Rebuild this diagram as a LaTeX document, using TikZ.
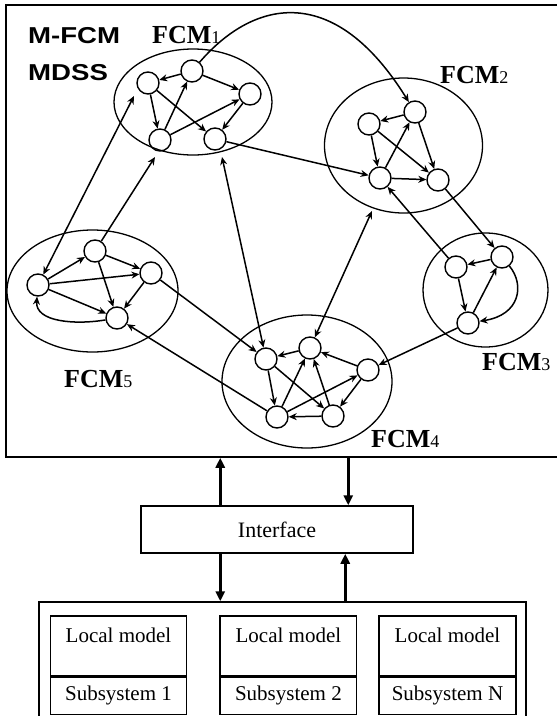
\documentclass[tikz,border=0pt]{standalone}
\usepackage{graphicx}
\usepackage{fontspec}
\setmainfont{Liberation Serif}
\newfontfamily\headsans{Liberation Sans}
\usetikzlibrary{shapes.geometric,arrows.meta}
\begin{document}
\begin{tikzpicture}[x=1pt,y=-1pt,
  fcm/.style={circle, draw, line width=1.4pt, minimum size=22pt, inner sep=0pt},
  cluster/.style={ellipse, draw, line width=1.3pt, inner sep=0pt},
  arc/.style={line width=1.5pt, -{Stealth[length=8pt,width=7pt]}},
  biarc/.style={line width=1.5pt, {Stealth[length=8pt,width=7pt]}-{Stealth[length=8pt,width=7pt]}},
  io/.style={line width=2.8pt, -{Triangle[length=10pt,width=9pt]}},
  frame/.style={draw, line width=1.5pt, inner sep=0pt},
  fcmlabel/.style={anchor=base west, inner sep=0pt, font=\fontsize{26}{26}\selectfont\bfseries},
  headlabel/.style={anchor=base west, inner sep=0pt},
  boxtext/.style={font=\fontsize{21}{21}\selectfont}]
\useasboundingbox (0,0) rectangle (557,716);

% outer frame of the decision support system
\node[frame, minimum width=560pt, minimum height=452pt] (mdss) at (286,231) {};
\node[headlabel] (t1) at (28,43) {\scalebox{1.2}[1]{\headsans\bfseries\fontsize{23}{23}\selectfont M-FCM}};
\node[headlabel] (t2) at (28,80) {\scalebox{1.2}[1]{\headsans\bfseries\fontsize{23}{23}\selectfont MDSS}};

% clusters
\node[cluster, minimum width=158pt, minimum height=106pt] (E1) at (193,102) {};
\node[cluster, minimum width=158pt, minimum height=135pt] (E2) at (403.5,145.5) {};
\node[cluster, minimum width=125pt, minimum height=114pt] (E3) at (485.5,290) {};
\node[cluster, minimum width=170pt, minimum height=133pt] (E4) at (307,381.5) {};
\node[cluster, minimum width=171pt, minimum height=122pt] (E5) at (92.5,291) {};

% cluster labels
\node[fcmlabel] (L1) at (152,43) {FCM{\mdseries\fontsize{18}{18}\selectfont 1}};
\node[fcmlabel] (L2) at (440,83) {FCM{\mdseries\fontsize{18}{18}\selectfont 2}};
\node[fcmlabel] (L3) at (482,370) {FCM{\mdseries\fontsize{18}{18}\selectfont 3}};
\node[fcmlabel] (L4) at (371,447) {FCM{\mdseries\fontsize{18}{18}\selectfont 4}};
\node[fcmlabel] (L5) at (64,387) {FCM{\mdseries\fontsize{18}{18}\selectfont 5}};

% concept nodes
\node[fcm] (n11) at (148,83) {};
\node[fcm] (n12) at (192,71) {};
\node[fcm] (n13) at (250,94) {};
\node[fcm] (n14) at (160,140) {};
\node[fcm] (n15) at (215,139) {};

\node[fcm] (n21) at (415,112) {};
\node[fcm] (n22) at (369,124) {};
\node[fcm] (n23) at (380,178) {};
\node[fcm] (n24) at (438,180) {};

\node[fcm] (n31) at (456,267) {};
\node[fcm] (n32) at (502,257) {};
\node[fcm] (n33) at (468,323) {};

\node[fcm] (n41) at (266,359) {};
\node[fcm] (n42) at (310,348) {};
\node[fcm] (n43) at (368,370) {};
\node[fcm] (n44) at (277,417) {};
\node[fcm] (n45) at (333,416) {};

\node[fcm] (n51) at (38,285) {};
\node[fcm] (n52) at (95,251) {};
\node[fcm] (n53) at (151,273) {};
\node[fcm] (n54) at (117,318) {};

% points on cluster borders
\coordinate (c1l) at (134,96);
\coordinate (c1a) at (155,157);
\coordinate (c1b) at (222,157);
\coordinate (c2b) at (372,211);

% links inside FCM1
\draw[arc] (n12) -- (n11);
\draw[arc] (n11) -- (n14);
\draw[arc] (n14) -- (n12);
\draw[arc] (n11) -- (n15);
\draw[arc] (n12) -- (n13);
\draw[arc] (n14) -- (n13);
\draw[arc] (n13) -- (n15);

% links inside FCM2
\draw[arc] (n21) -- (n22);
\draw[arc] (n22) -- (n23);
\draw[arc] (n23) -- (n21);
\draw[arc] (n22) -- (n24);
\draw[arc] (n21) -- (n24);
\draw[arc] (n23) -- (n24);

% links inside FCM3
\draw[arc] (n32) -- (n31);
\draw[arc] (n31) -- (n33);
\draw[arc] (n33) -- (n32);
\draw[arc] (n32) .. controls (525,285) and (520,315) .. (n33);

% links inside FCM4
\draw[arc] (n42) -- (n41);
\draw[arc] (n41) -- (n44);
\draw[arc] (n44) -- (n42);
\draw[arc] (n41) -- (n45);
\draw[arc] (n45) -- (n42);
\draw[arc] (n43) -- (n42);
\draw[arc] (n44) -- (n43);
\draw[arc] (n45) -- (n44);
\draw[arc] (n43) -- (n45);

% links inside FCM5
\draw[arc] (n51) -- (n52);
\draw[arc] (n52) -- (n53);
\draw[arc] (n51) -- (n53);
\draw[arc] (n52) -- (n54);
\draw[arc] (n51) -- (n54);
\draw[arc] (n53) -- (n54);
\draw[arc] (n54) .. controls (75,325) and (35,322) .. (n51);

% links between maps
\draw[arc] (n12) .. controls (255,-2) and (335,-17) .. (n21);
\draw[arc] (n15) -- (n23);
\draw[arc] (n31) -- (n23);
\draw[arc] (n24) -- (n32);
\draw[arc] (n33) -- (n43);
\draw[arc] (n53) -- (n41);
\draw[arc] (n44) -- (n54);
\draw[biarc] (n41) -- (c1b);
\draw[biarc] (n42) -- (c2b);
\draw[arc] (n52) -- (c1a);
\draw[biarc] (n51) -- (c1l);

% interface layer
\node[frame, minimum width=272pt, minimum height=47pt, font=\fontsize{22}{22}\selectfont] (iface) at (277,529.5) {Interface};
\coordinate (upA) at ([xshift=80pt]iface.north west);
\coordinate (dnA) at ([xshift=208pt]iface.north west);
\coordinate (dnB) at ([xshift=80pt]iface.south west);
\coordinate (upB) at ([xshift=205pt]iface.south west);
\draw[io] (upA) -- (upA |- mdss.south);
\draw[io] (dnA |- mdss.south) -- (dnA);

% subsystems
\node[frame, minimum width=487pt, minimum height=130pt] (subs) at (282.5,667) {};
\draw[io] (dnB) -- (dnB |- subs.north);
\draw[io] (upB |- subs.north) -- (upB);

\node[frame, boxtext, minimum width=136pt, minimum height=59.5pt, text depth=20pt, anchor=north] (lm1) at (118.5,615) {Local model};
\node[frame, boxtext, minimum width=136pt, minimum height=37.5pt, anchor=north] (ss1) at (lm1.south) {Subsystem 1};
\node[frame, boxtext, minimum width=136.5pt, minimum height=59.5pt, text depth=20pt, anchor=north] (lm2) at (288.4,615) {Local model};
\node[frame, boxtext, minimum width=136.5pt, minimum height=37.5pt, anchor=north] (ss2) at (lm2.south) {Subsystem 2};
\node[frame, boxtext, minimum width=137pt, minimum height=59.5pt, text depth=20pt, anchor=north] (lm3) at (447.5,615) {Local model};
\node[frame, boxtext, minimum width=137pt, minimum height=37.5pt, anchor=north] (ss3) at (lm3.south) {Subsystem N};
\end{tikzpicture}
\end{document}
